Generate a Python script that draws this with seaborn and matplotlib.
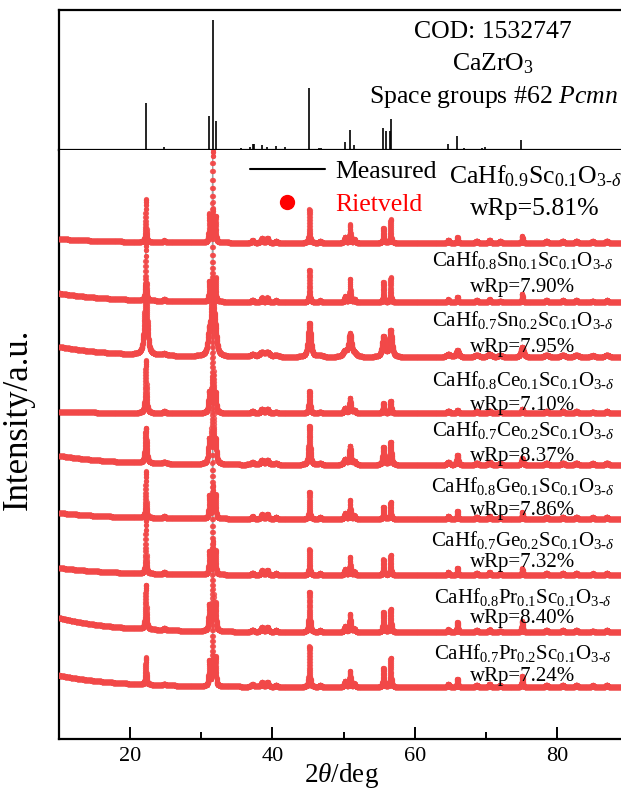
import numpy as np
import pandas as pd
import matplotlib
matplotlib.use("Agg")
import matplotlib.pyplot as plt
import seaborn as sns
from matplotlib.lines import Line2D
from matplotlib.ticker import MultipleLocator

# REFERENCE STICK PATTERN (COD 1532747, CaZrO3)

stick_pos = [22.2, 24.8, 31.1, 31.6, 32.0, 33.1, 35.0, 35.6, 36.8, 37.2,
             37.4, 38.5, 39.3, 40.5, 41.8, 42.4, 45.2, 46.5, 46.8, 49.3,
             49.6, 50.2, 50.9, 51.5, 52.9, 55.5, 55.9, 56.5, 56.7, 61.8,
             64.7, 65.9, 66.9, 69.5, 69.9, 71.0, 74.9]
stick_int = [36, 2, 26, 100, 22, 1, 1, 1.5, 2, 4.5,
             4.5, 3.5, 2.5, 3, 2, 1, 48, 1.8, 1.8, 0.8,
             1, 6.5, 15.5, 4, 0.8, 17, 15, 15, 24, 0.8,
             5, 11, 1.5, 1.5, 2, 1, 8]

# SAMPLES (top to bottom)

samples = [
    r"CaHf$_{0.9}$Sc$_{0.1}$O$_{3\text{-}\delta}$",
    r"CaHf$_{0.8}$Sn$_{0.1}$Sc$_{0.1}$O$_{3\text{-}\delta}$",
    r"CaHf$_{0.7}$Sn$_{0.2}$Sc$_{0.1}$O$_{3\text{-}\delta}$",
    r"CaHf$_{0.8}$Ce$_{0.1}$Sc$_{0.1}$O$_{3\text{-}\delta}$",
    r"CaHf$_{0.7}$Ce$_{0.2}$Sc$_{0.1}$O$_{3\text{-}\delta}$",
    r"CaHf$_{0.8}$Ge$_{0.1}$Sc$_{0.1}$O$_{3\text{-}\delta}$",
    r"CaHf$_{0.7}$Ge$_{0.2}$Sc$_{0.1}$O$_{3\text{-}\delta}$",
    r"CaHf$_{0.8}$Pr$_{0.1}$Sc$_{0.1}$O$_{3\text{-}\delta}$",
    r"CaHf$_{0.7}$Pr$_{0.2}$Sc$_{0.1}$O$_{3\text{-}\delta}$",
]
wrp = ["5.81", "7.90", "7.95", "7.10", "8.37", "7.86", "7.32", "8.40", "7.24"]

offsets = [8.93, 7.86, 6.87, 5.86, 4.93, 3.96, 2.95, 1.92, 0.935]
widths = [0.14, 0.14, 0.45, 0.22, 0.27, 0.15, 0.15, 0.2, 0.17]
background = [0.07, 0.16, 0.19, 0.03, 0.17, 0.11, 0.13, 0.26, 0.21]

major_pos = [22.2, 31.1, 31.6, 32.0, 45.2, 50.9, 55.6, 56.6, 66.0, 75.1]
major_h = [
    [0.77, 0.50, 1.65, 0.45, 0.60, 0.33, 0.27, 0.42, 0.10, 0.12],
    [1.05, 0.35, 1.65, 0.40, 0.58, 0.42, 0.36, 0.45, 0.10, 0.15],
    [1.30, 0.35, 1.30, 0.30, 0.61, 0.40, 0.36, 0.48, 0.12, 0.18],
    [0.95, 0.35, 1.60, 0.30, 0.40, 0.27, 0.18, 0.22, 0.06, 0.08],
    [0.63, 0.40, 1.60, 0.35, 0.70, 0.34, 0.32, 0.41, 0.18, 0.12],
    [0.83, 0.40, 1.60, 0.40, 0.49, 0.34, 0.22, 0.31, 0.15, 0.12],
    [1.00, 0.40, 1.60, 0.40, 0.46, 0.32, 0.28, 0.36, 0.13, 0.12],
    [0.80, 0.45, 1.60, 0.45, 0.72, 0.32, 0.36, 0.42, 0.18, 0.20],
    [0.49, 0.45, 1.30, 0.50, 0.73, 0.28, 0.34, 0.52, 0.15, 0.20],
]

minor_pos = [24.8, 37.2, 38.5, 39.3, 40.5, 46.7, 50.2, 51.5, 64.7,
             68.7, 70.5, 72.0, 78.5, 80.8, 82.7, 85.0, 87.0]
minor_h = [0.03, 0.04, 0.08, 0.08, 0.03, 0.03, 0.10, 0.06, 0.05,
           0.04, 0.05, 0.03, 0.04, 0.04, 0.04, 0.03, 0.04]

# LABEL POSITIONS (data units of lower panel)

label_y = [10.13, 8.62, 7.54, 6.46, 5.56, 4.55, 3.58, 2.55, 1.55]
wrp_y = [9.53, 8.13, 7.05, 6.01, 5.09, 4.12, 3.17, 2.16, 1.13]

red = "#f24848"

sns.set_style("ticks")
plt.rcParams["font.family"] = ["Liberation Serif", "DejaVu Serif"]
plt.rcParams["mathtext.fontset"] = "custom"
plt.rcParams["mathtext.rm"] = "Liberation Serif"
plt.rcParams["mathtext.it"] = "Liberation Serif:italic"
plt.rcParams["mathtext.bf"] = "Liberation Serif:bold"
plt.rcParams["text.color"] = "black"
plt.rcParams["axes.edgecolor"] = "black"
plt.rcParams["axes.labelcolor"] = "black"
plt.rcParams["xtick.color"] = "black"
plt.rcParams["ytick.color"] = "black"


def peak(x, p, h, w):
    d = (x - p) / (w / 2)
    lor = 1 / (1 + d ** 2)
    gau = np.exp(-np.log(2) * d ** 2)
    return h * (0.7 * lor + 0.3 * gau)


x = np.arange(10, 89.4, 0.01)

fig = plt.figure(figsize=(6.21, 7.91), dpi=100)

ax_top = fig.add_axes([59 / 621, 1 - 150 / 791, 565 / 621, 140 / 791])
ax = fig.add_axes([59 / 621, 1 - 739 / 791, 565 / 621, 589 / 791], sharex=ax_top)

# TOP: STICKS

ax_top.vlines(stick_pos, 0, stick_int, color="black", lw=1.2)
ax_top.set_ylim(0, 108)
ax_top.set_yticks([])
ax_top.tick_params(axis="x", which="both", bottom=False, labelbottom=False)
ax_top.spines["right"].set_visible(False)

for sp in ax_top.spines.values():
    sp.set_linewidth(1.6)

ax_top.text(71.0, 0.843, "COD: 1532747", transform=ax_top.get_xaxis_transform(),
            ha="center", va="center", fontsize=18.5)
ax_top.text(71.0, 0.614, r"CaZrO$_3$", transform=ax_top.get_xaxis_transform(),
            ha="center", va="center", fontsize=18.5)
ax_top.text(71.0, 0.379, r"Space groups #62 $Pcmn$",
            transform=ax_top.get_xaxis_transform(),
            ha="center", va="center", fontsize=18.5)

# BOTTOM: PATTERNS

for i in range(len(samples)):

    y = np.full_like(x, offsets[i])
    y = y + background[i] * np.exp(-(x - 10) / 8)

    for p, h in zip(major_pos, major_h[i]):
        y = y + peak(x, p, h, widths[i])

    for p, h in zip(minor_pos, minor_h):
        y = y + peak(x, p, h, widths[i] * 1.5)

    sns.lineplot(x=x, y=y, ax=ax, color="#a0a0a0", lw=0.7,
                 estimator=None, sort=False, zorder=2)

    sns.scatterplot(x=x, y=y, ax=ax, color=red, s=14,
                    linewidth=0, alpha=0.85, zorder=3)

    fs = 18.5 if i == 0 else 15
    xc = 76.9 if i == 0 else 75.2

    ax.text(xc, label_y[i], samples[i], ha="center", va="center",
            fontsize=fs, zorder=5)
    ax.text(xc, wrp_y[i], f"wRp={wrp[i]}%", ha="center", va="center",
            fontsize=fs, zorder=5)

ax.set_xlim(10, 89.4)
ax.set_ylim(0, 10.6)
ax.set_yticks([])

ax.xaxis.set_major_locator(MultipleLocator(20))
ax.xaxis.set_minor_locator(MultipleLocator(10))
ax.tick_params(axis="x", which="major", direction="in", length=9,
               width=1.4, labelsize=16, pad=6)
ax.tick_params(axis="x", which="minor", direction="in", length=5, width=1.4)
ax.spines["right"].set_visible(False)
ax.spines["top"].set_visible(False)

for sp in ax.spines.values():
    sp.set_linewidth(1.6)

ax.set_xlabel(r"2$\theta$/deg", fontsize=19.5, labelpad=-4)
ax.set_ylabel("")

fig.text(18 / 621, 1 - 419 / 791, "Intensity/a.u.", rotation=90,
         ha="center", va="center", fontsize=25)

# LEGEND

handles = [
    Line2D([], [], color="black", lw=1.5),
    Line2D([], [], marker="o", color="red", ls="none", ms=10),
]

leg = ax.legend(handles, ["Measured", "Rietveld"], loc="upper left",
                bbox_to_anchor=((250 - 59) / 565, (739 - 160) / 589),
                frameon=False, fontsize=18.5, handlelength=2.9,
                handletextpad=0.4, labelspacing=0.4,
                borderpad=0, borderaxespad=0)

leg.get_texts()[1].set_color("red")

fig.savefig("out.png", dpi=100)
